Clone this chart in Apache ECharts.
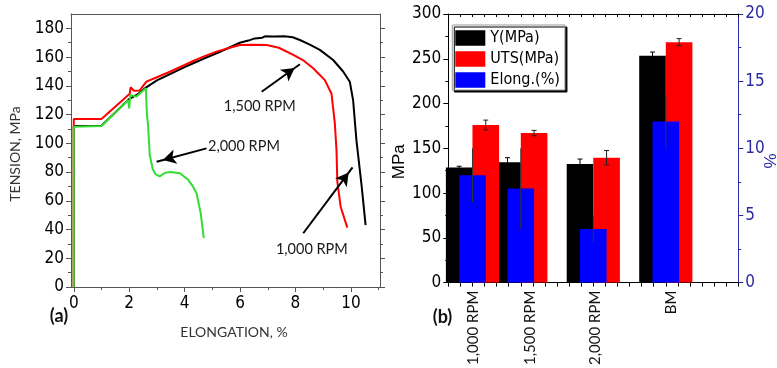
<!DOCTYPE html>
<html><head><meta charset="utf-8">
<script src="https://cdn.jsdelivr.net/npm/echarts@6/dist/echarts.min.js"></script>
<style>html,body{margin:0;padding:0;background:#fff}#c{width:777px;height:368px}</style>
</head><body><div id="c"></div>
<script>
// ---------- Panel (a): tension vs elongation, [elongation %, tension MPa]
const curve1500 = [[0,0],[0,112],[1.0,112.3],[1.98,130.5],[2.3,134],[2.6,138.8],[3.0,143.8],[3.47,148.2],[4.0,153],[4.31,155.7],[4.7,159],[5.15,162.6],[5.6,166.5],[5.99,170],[6.3,171.5],[6.53,173],[6.8,173.5],[6.9,174.5],[7.2,174.3],[7.6,174.5],[7.9,173.8],[8.16,171.9],[8.5,168.8],[8.88,165],[9.36,158],[9.72,150],[9.96,142.9],[10.08,130],[10.2,102],[10.39,69.8],[10.53,43.1]];
const curve1000 = [[0,0],[0,117],[1.0,117],[2.02,134.5],[2.05,139],[2.17,136.6],[2.38,136.8],[2.62,142.9],[3.0,146],[3.47,149.8],[4.0,154.5],[4.31,157.3],[4.7,160.5],[5.15,163.8],[5.6,166.3],[5.99,168.4],[6.5,168.6],[6.96,168.4],[7.4,166.5],[7.92,161.5],[8.3,157.5],[8.64,152.2],[9.06,144],[9.3,134.5],[9.42,114],[9.48,95.3],[9.51,73.3],[9.63,55.9],[9.87,41.3]];
const curve2000 = [[0,0],[0,111.5],[1.0,112],[1.96,130],[2.0,124.3],[2.04,133.6],[2.26,132.5],[2.6,138.3],[2.64,120],[2.68,112.7],[2.74,92],[2.85,82],[2.95,78.5],[3.1,77],[3.3,79.5],[3.5,80],[3.83,79.2],[4.13,74.6],[4.3,70],[4.43,65.3],[4.58,51.4],[4.69,34]];
const aXTicks = [0,2,4,6,8,10];
const aXMinor = [1,3,5,7,9,11];
const aYTicks = [0,20,40,60,80,100,120,140,160,180];
const aYMinor = [10,30,50,70,90,110,130,150,170];
// annotations (data units)
const arrows = [[[6.78,135.9],[8.16,155]],[[4.79,96.5],[2.99,87.2]],[[8.28,37.4],[10.06,83.3]]];
const notes = [['1,500 RPM',6.71,125.9],['2,000 RPM',6.14,98.1],['1,000 RPM',8.59,26.4]];

// ---------- Panel (b): bars
const groups = ['1,000 RPM','1,500 RPM','2,000 RPM','BM'];
const groupX = [1,3,6,9];
const labelAt = [1.03,3.38,6.07,9.24];
const yieldMPa = [128.5,134.5,132.5,253.5];
const yieldErr = [1.5,5,5.5,4];
const utsMPa = [176,167,139.5,268.5];
const utsErr = [5.5,3,8,4];
const elong = [8,7,4,12];
const elongErr = [2,3,1,2];

const BAR_FRAC = 0.55;
const FONT_NUM = "'Liberation Sans Narrow','Arial Narrow','DejaVu Sans Condensed','Liberation Sans',sans-serif";
const FONT_TXT = "Lato,'Open Sans',sans-serif";
const GRAY = '#555';
const NAVY = '#2a2aa5';

let minGap = Infinity;
for (let i = 1; i < groupX.length; i++) minGap = Math.min(minGap, groupX[i] - groupX[i-1]);

function ax(o) {
  return Object.assign({
    type: 'value', splitLine: {show: false},
    axisLine: {show: false, onZero: false},
    axisTick: {show: false}, axisLabel: {show: false}
  }, o);
}
const numLabel = (extra) => Object.assign({show: true, fontFamily: FONT_NUM, fontSize: 17, color: '#000'}, extra);

function errSeries(xi, yi, vals, errs, side, color, cap) {
  return {
    type: 'custom', xAxisIndex: xi, yAxisIndex: yi, z: 10, silent: true, animation: false,
    data: vals.map((v, i) => [groupX[i], v, errs[i]]),
    encode: {x: 0, y: 1},
    renderItem: function (params, api) {
      const x = api.value(0), v = api.value(1), e = api.value(2);
      const xc = x + side * BAR_FRAC * minGap / 2;
      const t = api.coord([xc, v + e]), b = api.coord([xc, v - e]);
      const st = {stroke: color, lineWidth: 1};
      const ch = [{type: 'line', shape: {x1: t[0], y1: t[1], x2: b[0], y2: b[1]}, style: st}];
      if (cap) {
        ch.push({type: 'line', shape: {x1: t[0]-2.5, y1: t[1], x2: t[0]+2.5, y2: t[1]}, style: st});
        ch.push({type: 'line', shape: {x1: b[0]-2.5, y1: b[1], x2: b[0]+2.5, y2: b[1]}, style: st});
      }
      return {type: 'group', children: ch};
    }
  };
}

const chart = echarts.init(document.getElementById('c'), null, {renderer: 'canvas'});
const option = {
  animation: false,
  backgroundColor: '#fff',
  grid: [
    {left: 71, right: 397, top: 14, bottom: 81},
    {left: 448.3, right: 38.7, top: 14, bottom: 81.3}
  ],
  legend: {
    data: ['Y(MPa)', 'UTS(MPa)', 'Elong.(%)'],
    orient: 'vertical', left: 452.3, top: 25,
    itemWidth: 30, itemHeight: 15.5, itemGap: 5, icon: 'rect',
    padding: [5, 5, 2, 3],
    backgroundColor: '#fff', borderColor: '#999', borderWidth: 1,
    shadowColor: '#000', shadowOffsetX: 2, shadowOffsetY: 2, shadowBlur: 0,
    textStyle: {fontFamily: FONT_NUM, fontSize: 16, color: '#000'},
    selectedMode: false
  },
  xAxis: [
    ax({gridIndex: 0, position: 'bottom', min: -0.1, max: 11.05,
        axisLine: {show: true, onZero: false, lineStyle: {color: GRAY}},
        axisTick: {show: true, customValues: aXTicks, length: 5, lineStyle: {color: GRAY}},
        axisLabel: numLabel({customValues: aXTicks, margin: 8})}),
    ax({gridIndex: 0, position: 'bottom', min: -0.1, max: 11.05,
        axisTick: {show: true, customValues: aXMinor, length: 3, lineStyle: {color: GRAY}}}),
    ax({gridIndex: 0, position: 'top', min: -0.1, max: 11.05,
        axisLine: {show: true, onZero: false, lineStyle: {color: GRAY}}}),
    ax({gridIndex: 1, position: 'bottom', min: 0, max: 12, interval: 0.5,
        axisLine: {show: true, onZero: false, lineStyle: {color: '#000'}},
        axisTick: {show: true, length: 4, lineStyle: {color: '#000'}}}),
    ax({gridIndex: 1, position: 'bottom', min: 0, max: 12,
        axisLabel: {show: true, customValues: labelAt, rotate: 90, margin: 8,
          fontFamily: FONT_TXT, fontSize: 15, color: '#111',
          formatter: function (v) {
            let best = 0;
            labelAt.forEach((p, i) => { if (Math.abs(p - v) < Math.abs(labelAt[best] - v)) best = i; });
            return groups[best];
          }}}),
    ax({gridIndex: 1, position: 'top', min: 0, max: 12, interval: 0.5,
        axisLine: {show: true, onZero: false, lineStyle: {color: '#000'}},
        axisTick: {show: true, inside: true, length: 3, lineStyle: {color: '#000'}}}),
    ax({gridIndex: 1, position: 'bottom', min: 0, max: 12})
  ],
  yAxis: [
    ax({gridIndex: 0, position: 'left', min: 0, max: 190,
        axisLine: {show: true, onZero: false, lineStyle: {color: GRAY}},
        axisTick: {show: true, customValues: aYTicks, length: 5, lineStyle: {color: GRAY}},
        axisLabel: numLabel({customValues: aYTicks, margin: 7})}),
    ax({gridIndex: 0, position: 'left', min: 0, max: 190,
        axisTick: {show: true, customValues: aYMinor, length: 3, lineStyle: {color: GRAY}}}),
    ax({gridIndex: 0, position: 'right', min: 0, max: 190,
        axisLine: {show: true, onZero: false, lineStyle: {color: GRAY}},
        axisTick: {show: true, customValues: aYTicks, length: 5, lineStyle: {color: GRAY}}}),
    ax({gridIndex: 0, position: 'right', min: 0, max: 190,
        axisTick: {show: true, customValues: aYMinor, length: 3, lineStyle: {color: GRAY}}}),
    ax({gridIndex: 1, position: 'left', min: 0, max: 300, interval: 50,
        axisLine: {show: true, onZero: false, lineStyle: {color: '#000'}},
        axisTick: {show: true, length: 5, lineStyle: {color: '#000'}},
        minorTick: {show: true, splitNumber: 2, length: 3, lineStyle: {color: '#000'}},
        axisLabel: numLabel({margin: 7})}),
    ax({gridIndex: 1, position: 'right', min: 0, max: 20, interval: 5,
        axisLine: {show: true, onZero: false, lineStyle: {color: NAVY}},
        axisTick: {show: true, length: 5, lineStyle: {color: NAVY}},
        minorTick: {show: true, splitNumber: 2, length: 3, lineStyle: {color: NAVY}},
        axisLabel: numLabel({margin: 7, color: NAVY})})
  ],
  series: [
    {type: 'line', name: '1,500 RPM', xAxisIndex: 0, yAxisIndex: 0, data: curve1500,
     showSymbol: false, lineStyle: {color: '#000', width: 2}, itemStyle: {color: '#000'},
     markLine: {silent: true, animation: false, symbol: ['none', 'arrow'], symbolSize: [11, 13],
       symbolOffset: [[0, 0], [0, '50%']],
       lineStyle: {color: '#000', width: 2, type: 'solid'}, label: {show: false},
       emphasis: {disabled: true},
       data: arrows.map(a => [{coord: a[0]}, {coord: a[1]}])},
     markPoint: {silent: true, animation: false, symbol: 'circle', symbolSize: 1,
       itemStyle: {color: 'rgba(0,0,0,0)'},
       label: {show: true, position: 'inside', formatter: p => p.name,
         fontFamily: FONT_TXT, fontSize: 14.5, color: '#1a1a1a'},
       data: notes.map(n => ({name: n[0], coord: [n[1], n[2]]}))}},
    {type: 'line', name: '1,000 RPM', xAxisIndex: 0, yAxisIndex: 0, data: curve1000,
     showSymbol: false, lineStyle: {color: '#ff0000', width: 2}, itemStyle: {color: '#ff0000'}},
    {type: 'line', name: '2,000 RPM', xAxisIndex: 0, yAxisIndex: 0, data: curve2000,
     showSymbol: false, lineStyle: {color: '#33dd33', width: 2}, itemStyle: {color: '#33dd33'}},
    {type: 'bar', name: 'Y(MPa)', xAxisIndex: 3, yAxisIndex: 4,
     data: groupX.map((x, i) => [x, yieldMPa[i]]), barWidth: (BAR_FRAC * 100) + '%', barGap: '0%',
     itemStyle: {color: '#000'}},
    {type: 'bar', name: 'UTS(MPa)', xAxisIndex: 3, yAxisIndex: 4,
     data: groupX.map((x, i) => [x, utsMPa[i]]), barWidth: (BAR_FRAC * 100) + '%', barGap: '0%',
     itemStyle: {color: '#ff0000'}},
    {type: 'bar', name: 'Elong.(%)', xAxisIndex: 6, yAxisIndex: 5, z: 3,
     data: groupX.map((x, i) => [x, elong[i]]), barWidth: (BAR_FRAC * 100) + '%',
     itemStyle: {color: '#0000ff'}},
    errSeries(3, 4, yieldMPa, yieldErr, -1, '#000', true),
    errSeries(3, 4, utsMPa, utsErr, 1, '#222', true),
    errSeries(6, 5, elong, elongErr, 0, '#333', false)
  ],
  graphic: [
    {type: 'text', x: 15, y: 154, rotation: Math.PI / 2,
     style: {text: 'TENSION, MPa', fontFamily: FONT_TXT, fontSize: 14, fill: '#333', align: 'center', verticalAlign: 'middle'}},
    {type: 'text', x: 234, y: 332,
     style: {text: 'ELONGATION, %', fontFamily: FONT_TXT, fontSize: 14, fill: '#333', align: 'center', verticalAlign: 'middle'}},
    {type: 'text', x: 59, y: 316,
     style: {text: '(a)', fontFamily: FONT_TXT, fontWeight: 'bold', fontSize: 18, fill: '#111', align: 'center', verticalAlign: 'middle'}},
    {type: 'text', x: 442.5, y: 317.5,
     style: {text: '(b)', fontFamily: FONT_TXT, fontWeight: 'bold', fontSize: 18, fill: '#111', align: 'center', verticalAlign: 'middle'}},
    {type: 'text', x: 399, y: 161.7, rotation: Math.PI / 2,
     style: {text: 'MPa', fontFamily: "'Liberation Sans',Arial,sans-serif", fontSize: 17, fill: '#000', align: 'center', verticalAlign: 'middle'}},
    {type: 'text', x: 771, y: 161, rotation: Math.PI / 2,
     style: {text: '%', fontFamily: "'Liberation Sans',Arial,sans-serif", fontSize: 17, fill: NAVY, align: 'center', verticalAlign: 'middle'}}
  ]
};
chart.setOption(option);
</script></body></html>
